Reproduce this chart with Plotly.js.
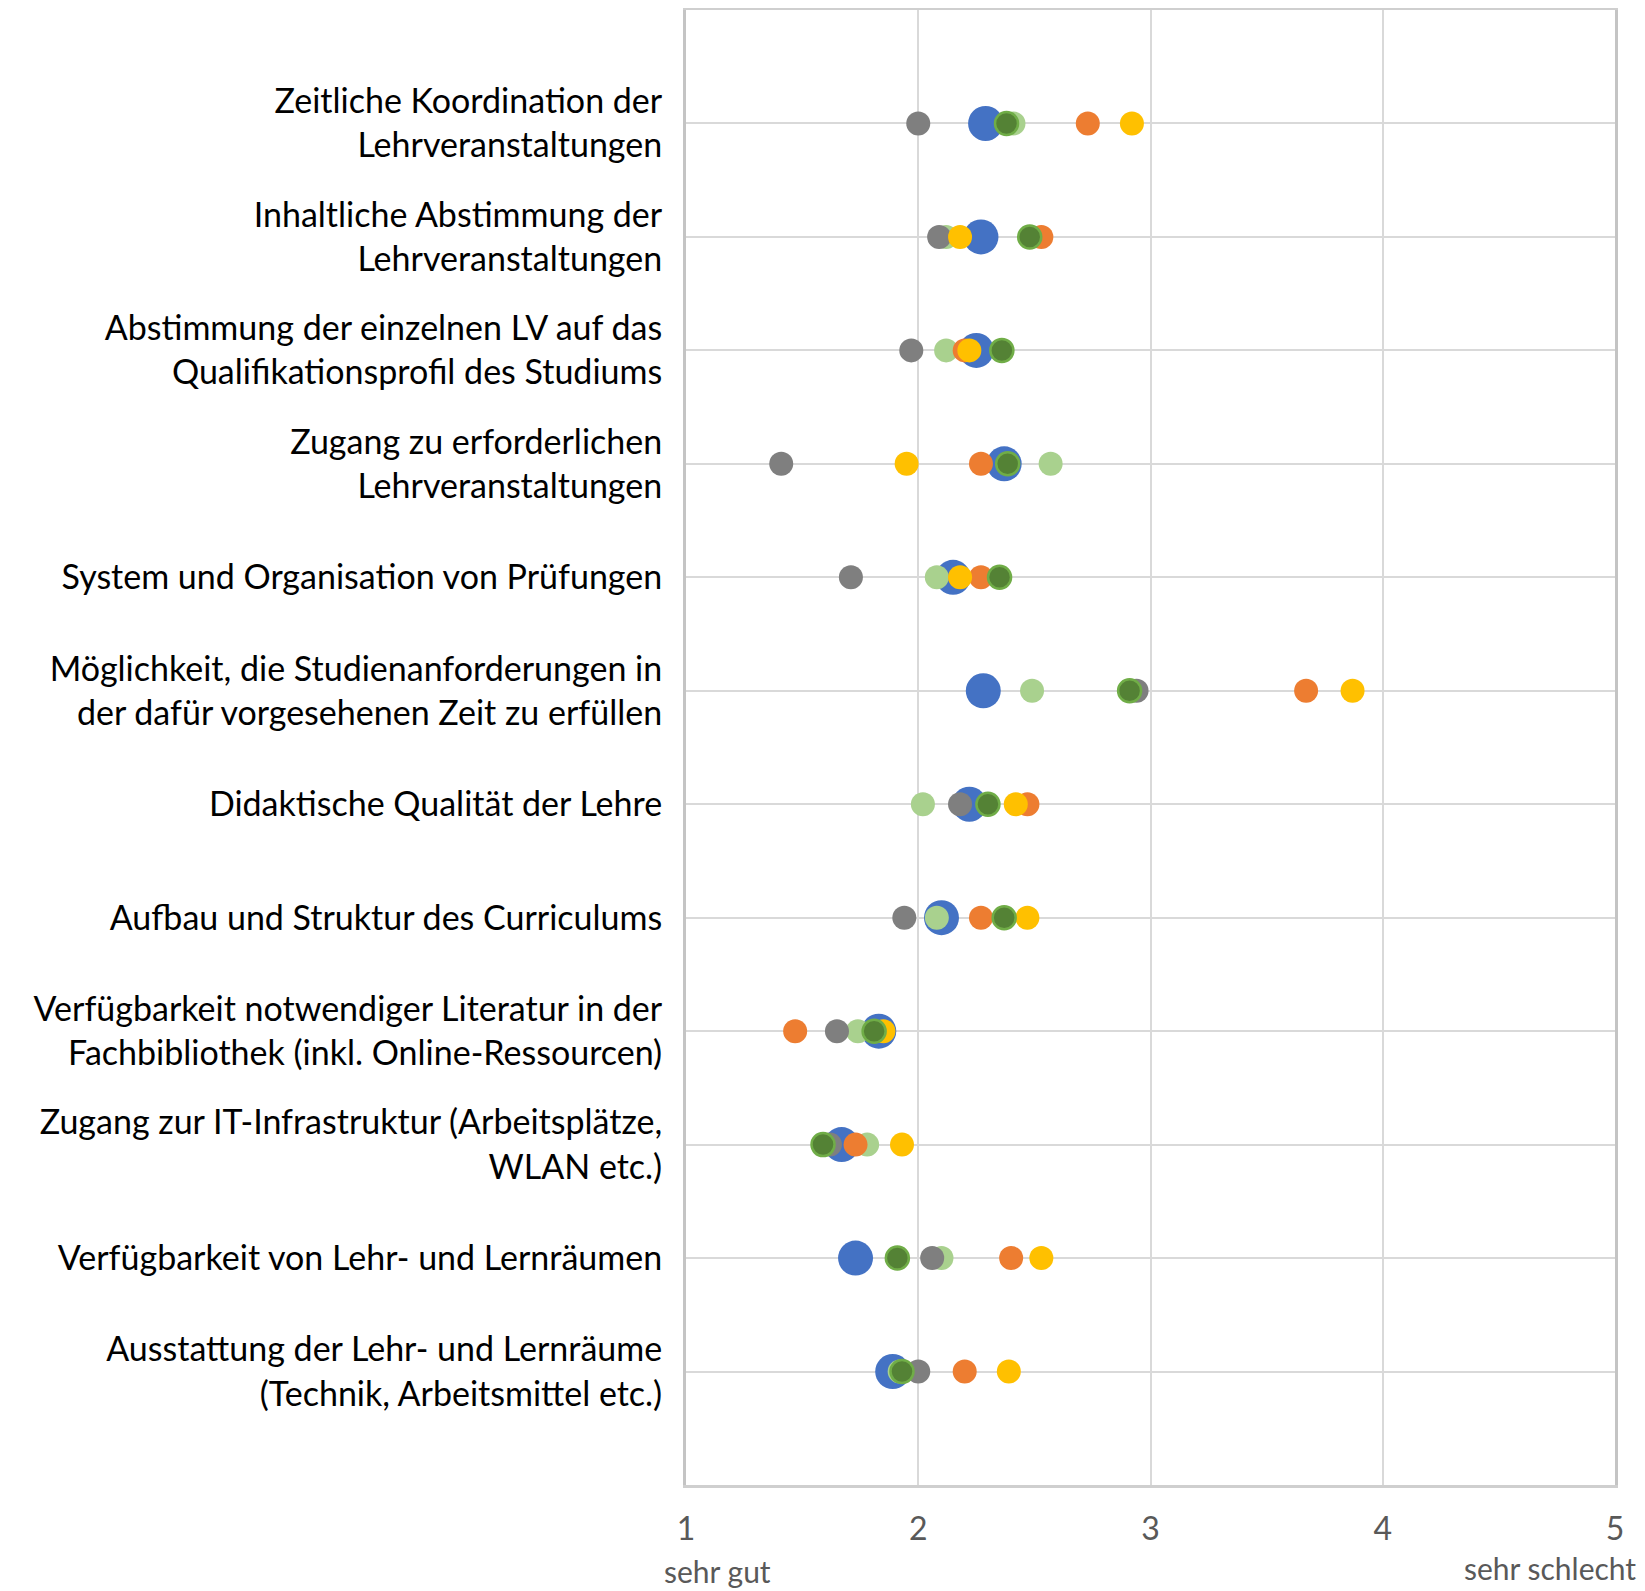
<!DOCTYPE html>
<html>
<head>
<meta charset="utf-8">
<script src="https://cdn.plot.ly/plotly-3.0.1.min.js"></script>
<style>html,body{margin:0;padding:0;background:#fff;}#chart{width:1645px;height:1591px;}</style>
</head>
<body>
<div id="chart"></div>
<script>
const categories = [
  "Zeitliche Koordination der<br>Lehrveranstaltungen",
  "Inhaltliche Abstimmung der<br>Lehrveranstaltungen",
  "Abstimmung der einzelnen LV auf das<br>Qualifikationsprofil des Studiums",
  "Zugang zu erforderlichen<br>Lehrveranstaltungen",
  "System und Organisation von Prüfungen",
  "Möglichkeit, die Studienanforderungen in<br>der dafür vorgesehenen Zeit zu erfüllen",
  "Didaktische Qualität der Lehre",
  "Aufbau und Struktur des Curriculums",
  "Verfügbarkeit notwendiger Literatur in der<br>Fachbibliothek (inkl. Online-Ressourcen)",
  "Zugang zur IT-Infrastruktur (Arbeitsplätze,<br>WLAN etc.)",
  "Verfügbarkeit von Lehr- und Lernräumen",
  "Ausstattung der Lehr- und Lernräume<br>(Technik, Arbeitsmittel etc.)"
];

const blueValues      = [2.29, 2.27, 2.25, 2.37, 2.15, 2.28, 2.22, 2.10, 1.83, 1.67, 1.73, 1.89];
const lightGreenValues= [2.41, 2.12, 2.12, 2.57, 2.08, 2.49, 2.02, 2.08, 1.74, 1.78, 2.10, 1.92];
const grayValues      = [2.00, 2.09, 1.97, 1.41, 1.71, 2.94, 2.18, 1.94, 1.65, 1.62, 2.06, 2.00];
const orangeValues    = [2.73, 2.53, 2.20, 2.27, 2.27, 3.67, 2.47, 2.27, 1.47, 1.73, 2.40, 2.20];
const yellowValues    = [2.92, 2.18, 2.22, 1.95, 2.18, 3.87, 2.42, 2.47, 1.85, 1.93, 2.53, 2.39];
const darkGreenValues = [2.38, 2.48, 2.36, 2.385, 2.35, 2.91, 2.30, 2.37, 1.81, 1.59, 1.91, 1.93];

const xTickVals = [1, 2, 3, 4, 5];
const xTickText = ["1", "2", "3", "4", "5"];

const yPos = categories.map((c, i) => categories.length - i);

function series(name, values, color, size, line) {
  return {
    type: "scatter", mode: "markers", name: name,
    x: values, y: yPos,
    marker: { color: color, size: size, opacity: 1,
      line: line || { color: color, width: 0 } },
    hoverinfo: "x+name"
  };
}

const data = [
  series("Reihe 1", blueValues, "#4472C4", 35),
  series("Reihe 2", lightGreenValues, "#A9D18E", 24),
  series("Reihe 3", grayValues, "#7F7F7F", 24),
  series("Reihe 4", orangeValues, "#ED7D31", 24),
  series("Reihe 5", yellowValues, "#FFC000", 24),
  series("Reihe 6", darkGreenValues, "#548235", 23, { color: "#70AD47", width: 2.5 })
];

const layout = {
  width: 1645, height: 1591,
  margin: { l: 686, r: 30, t: 10, b: 106 },
  paper_bgcolor: "#ffffff", plot_bgcolor: "#ffffff",
  showlegend: false,
  font: { family: "Lato, 'Open Sans', sans-serif", color: "#000" },
  xaxis: {
    range: [1, 5], tickvals: xTickVals, ticktext: xTickText,
    showgrid: true, gridcolor: "#D9D9D9", gridwidth: 2,
    zeroline: false,
    showline: true, linecolor: "#CFCFCF", linewidth: 2.5, mirror: true,
    ticks: "", ticklabelstandoff: 14,
    tickfont: { family: "Lato, sans-serif", size: 32, color: "#595959" },
    fixedrange: true
  },
  yaxis: {
    range: [0, 13], tickvals: yPos, ticktext: categories,
    showgrid: true, gridcolor: "#D9D9D9", gridwidth: 2,
    zeroline: false,
    showline: true, linecolor: "#C4C4C4", linewidth: 3, mirror: true,
    ticks: "", ticklabelstandoff: 14,
    tickfont: { family: "Lato, sans-serif", size: 34, color: "#000000" },
    fixedrange: true
  },
  annotations: [
    { text: "sehr gut", xref: "paper", yref: "paper", x: -0.026, y: -0.058,
      xanchor: "left", yanchor: "middle", showarrow: false,
      font: { family: "Lato, sans-serif", size: 30, color: "#595959" } },
    { text: "sehr schlecht", xref: "paper", yref: "paper", x: 1.025, y: -0.056,
      xanchor: "right", yanchor: "middle", showarrow: false,
      font: { family: "Lato, sans-serif", size: 30, color: "#595959" } }
  ]
};

Plotly.newPlot("chart", data, layout, { displayModeBar: false, staticPlot: true });
</script>
</body>
</html>
